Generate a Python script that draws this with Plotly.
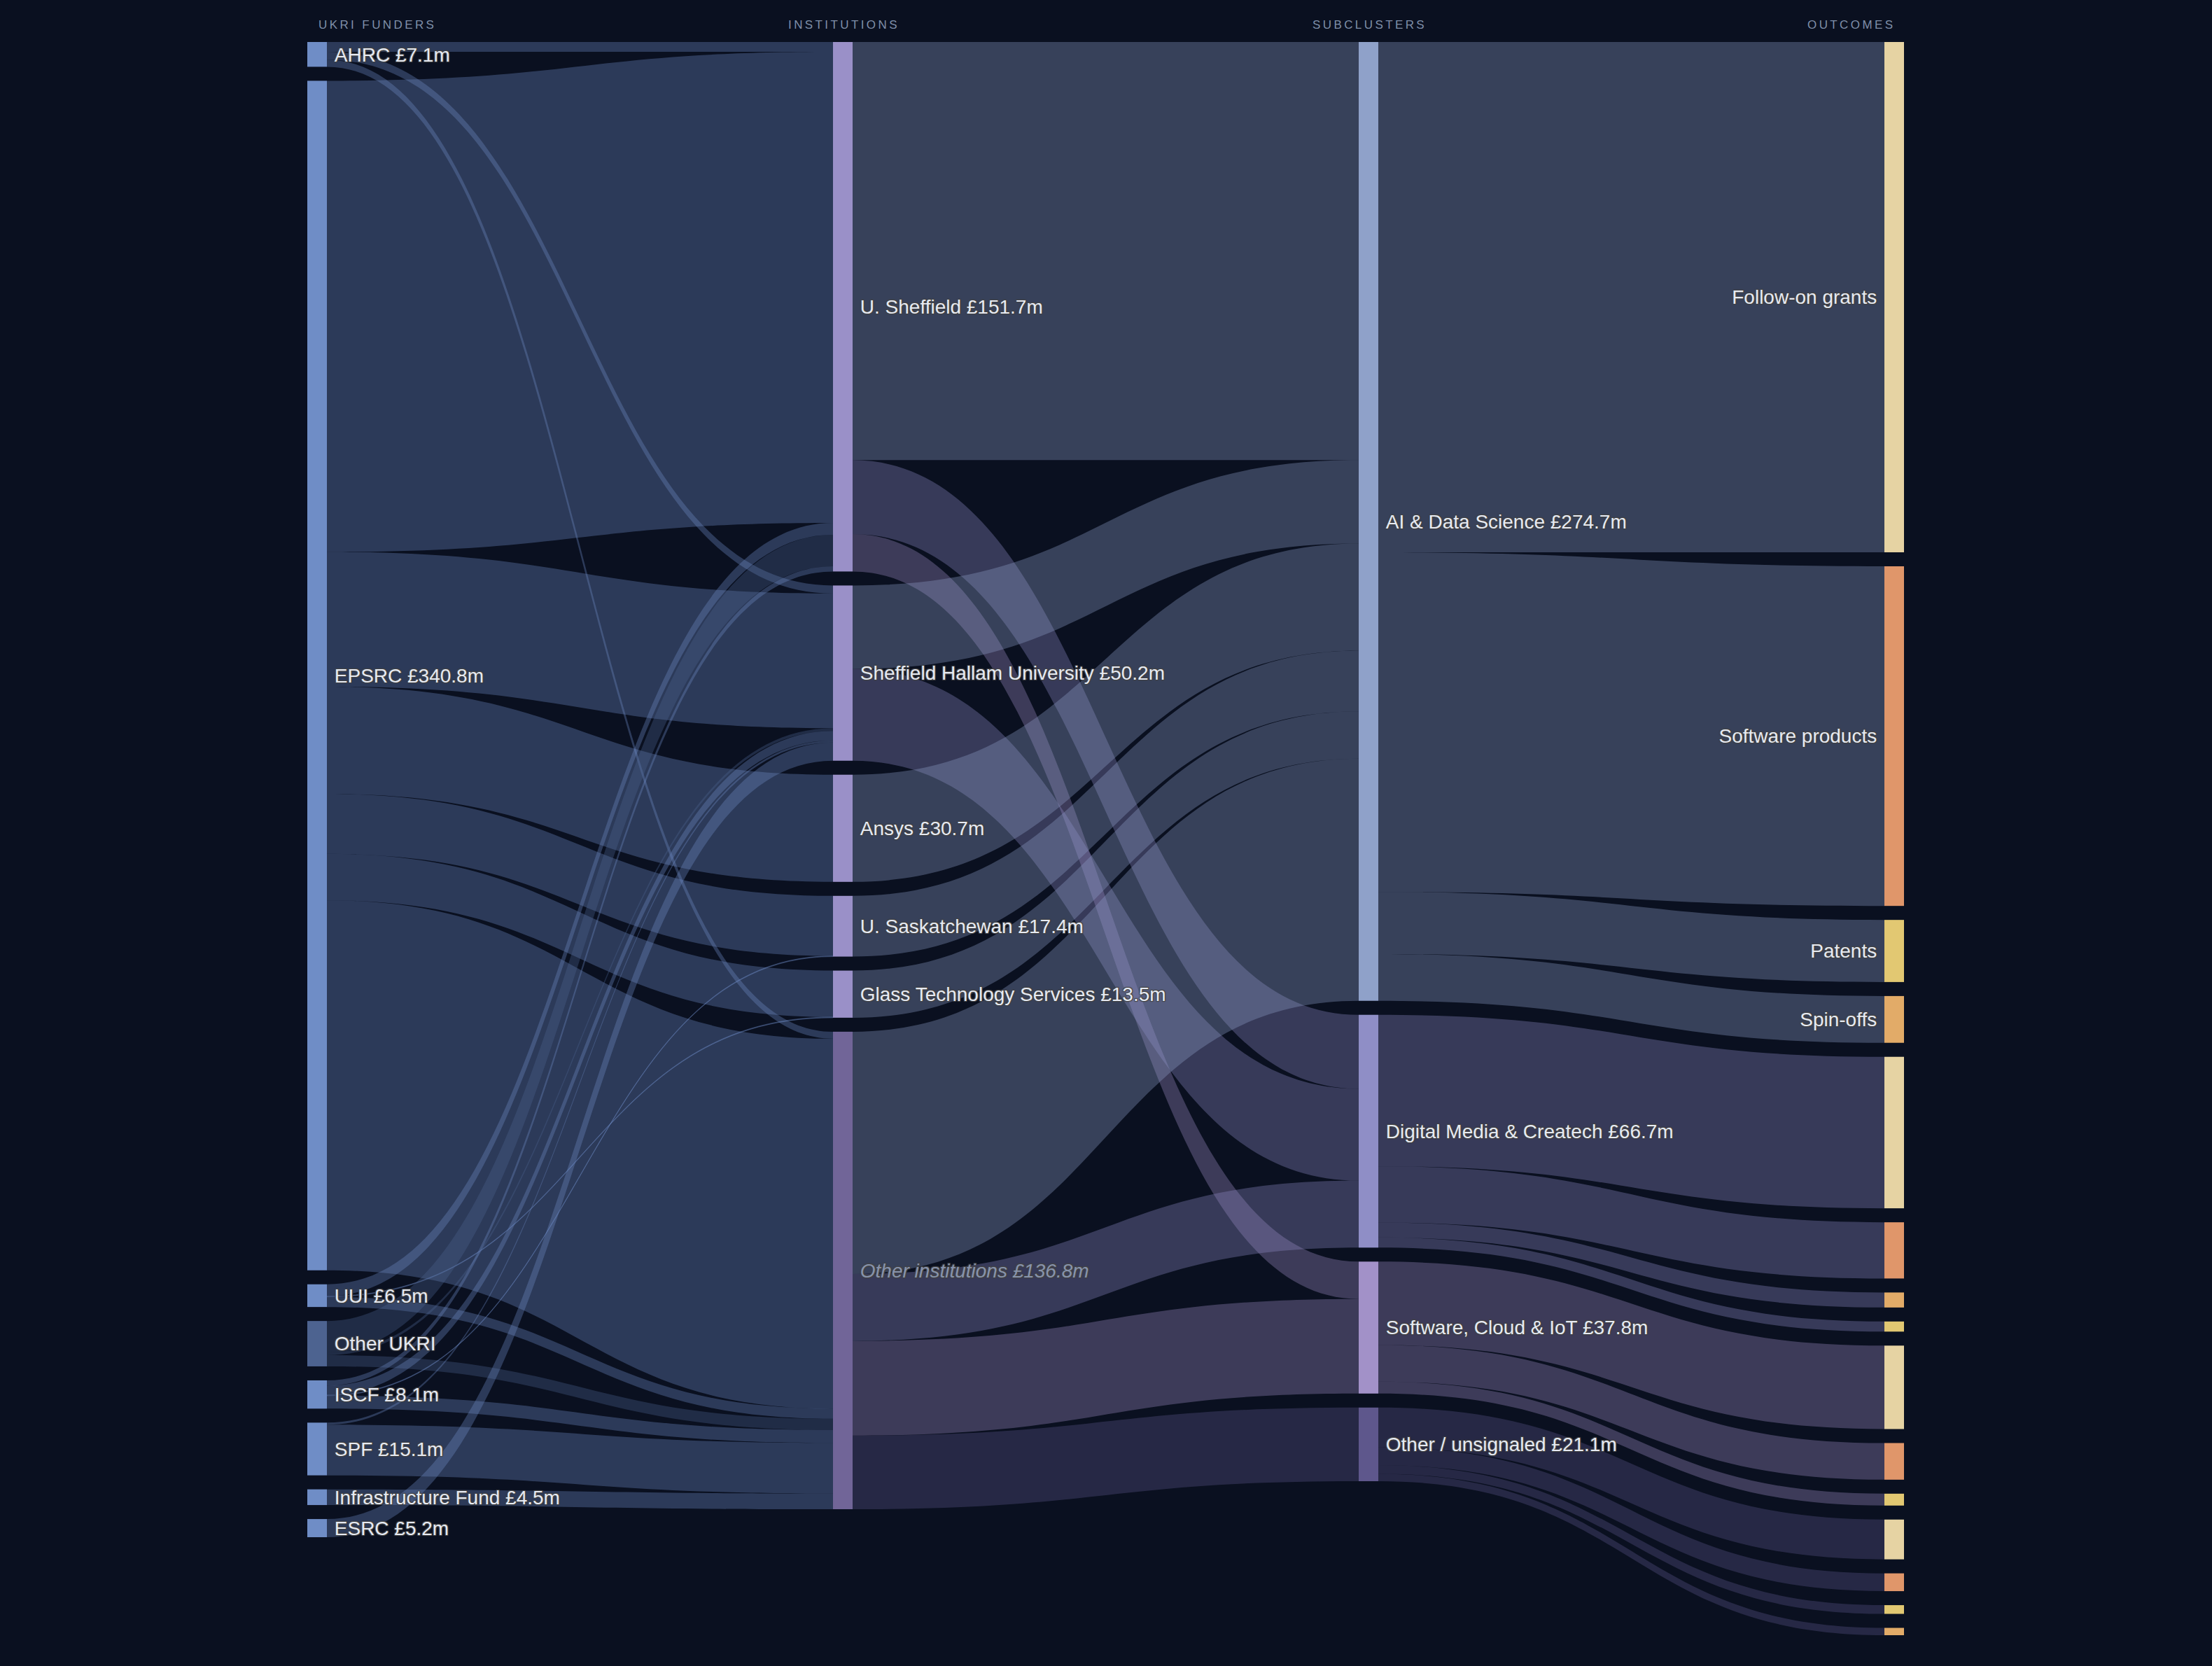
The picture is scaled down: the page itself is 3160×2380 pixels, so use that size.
import plotly.graph_objects as go

FIG_W, FIG_H = 3160, 2380
BG = "#0a1020"

# ---------------- data ----------------
funders = ["AHRC", "EPSRC", "UUI", "Other UKRI", "ISCF", "SPF", "Infrastructure Fund", "ESRC"]
funder_totals = [7.1, 340.8, 6.5, 13.0, 8.1, 15.1, 4.5, 5.2]
funder_show_total = [True, True, True, False, True, True, True, True]

institutions = ["U. Sheffield", "Sheffield Hallam University", "Ansys", "U. Saskatchewan",
                "Glass Technology Services", "Other institutions"]
inst_totals = [151.7, 50.2, 30.7, 17.4, 13.5, 136.8]

subclusters = ["AI & Data Science", "Digital Media & Createch", "Software, Cloud & IoT", "Other / unsignaled"]
sub_totals = [274.7, 66.7, 37.8, 21.1]

# funder -> institution flows (rows: funders, cols: institutions), £m
fund_to_inst = [
    [2.8, 2.3, 0.0, 0.0, 0.0, 2.0],        # AHRC
    [135.0, 38.6, 30.7, 17.2, 13.3, 106.0],  # EPSRC
    [3.4, 0.0, 0.0, 0.0, 0.2, 2.9],        # UUI
    [9.0, 0.8, 0.0, 0.0, 0.0, 3.2],        # Other UKRI
    [1.5, 2.7, 0.0, 0.2, 0.0, 3.7],        # ISCF
    [0.0, 0.6, 0.0, 0.0, 0.0, 14.5],       # SPF
    [0.0, 0.0, 0.0, 0.0, 0.0, 4.5],        # Infrastructure Fund
    [0.0, 5.2, 0.0, 0.0, 0.0, 0.0],        # ESRC
]

# institution -> subcluster flows (rows: institutions, cols: subclusters), £m
inst_to_sub = [
    [119.8, 21.2, 10.7, 0.0],
    [23.9, 26.3, 0.0, 0.0],
    [30.7, 0.0, 0.0, 0.0],
    [17.4, 0.0, 0.0, 0.0],
    [13.5, 0.0, 0.0, 0.0],
    [69.4, 19.2, 27.1, 21.1],
]

# subcluster -> outcome flows
outcome_names = [
    ["Follow-on grants", "Software products", "Patents", "Spin-offs"],
    ["Follow-on grants", "Software products", "Spin-offs", "Patents"],
    ["Follow-on grants", "Software products", "Patents"],
    ["Follow-on grants", "Software products", "Patents", "Spin-offs"],
]
outcome_values = [
    [146.2, 97.3, 17.8, 13.4],
    [43.4, 16.1, 4.3, 2.9],
    [23.9, 10.5, 3.4],
    [11.4, 5.1, 2.5, 2.1],
]
outcome_labelled = [True, False, False, False]

headers = ["UKRI FUNDERS", "INSTITUTIONS", "SUBCLUSTERS", "OUTCOMES"]

# ---------------- styling ----------------
funder_colors = ["#6f8dc6", "#6f8dc6", "#6f8dc6", "#4d6390", "#6f8dc6", "#6f8dc6", "#6f8dc6", "#6f8dc6"]
inst_colors = ["#9a90c8", "#9a90c8", "#9a90c8", "#9a90c8", "#9a90c8", "#716598"]
sub_colors = ["#8fa1c9", "#8f8ec6", "#a291c8", "#5e578c"]
outcome_colors = {"Follow-on grants": "#e6d3a3", "Software products": "#e0966a",
                  "Patents": "#e2c872", "Spin-offs": "#e2ab68"}
LINK_ALPHA = 0.34
LABEL_COLOR = "#e6eaf3"
HEADER_COLOR = "#7f8fa9"
FONT = "Liberation Sans, Arial, sans-serif"

X_LEFT, X_RIGHT = 439, 2720      # px extent of the sankey
Y_TOP, Y_BOTTOM = 60, 2336
THICK = 28
PAD = 20
NBSP = "\u00a0"


def rgba(hex_color, a):
    h = hex_color.lstrip("#")
    r, g, b = int(h[0:2], 16), int(h[2:4], 16), int(h[4:6], 16)
    return f"rgba({r},{g},{b},{a})"


# ---------------- build nodes ----------------
labels, colors, columns = [], [], [[], [], [], []]

for i, name in enumerate(funders):
    txt = f"{name} £{funder_totals[i]:.1f}m" if funder_show_total[i] else name
    columns[0].append(len(labels))
    labels.append(NBSP + txt)
    colors.append(funder_colors[i])

inst_idx0 = len(labels)
for i, name in enumerate(institutions):
    txt = f"{name} £{inst_totals[i]:.1f}m"
    if name.startswith("Other"):
        txt = f"<i><span style='color:#8793ad'>{txt}</span></i>"
    columns[1].append(len(labels))
    labels.append(NBSP + txt)
    colors.append(inst_colors[i])

sub_idx0 = len(labels)
for i, name in enumerate(subclusters):
    columns[2].append(len(labels))
    labels.append(NBSP + f"{name} £{sub_totals[i]:.1f}m")
    colors.append(sub_colors[i])

out_idx = []
for s, names in enumerate(outcome_names):
    row = []
    for name in names:
        row.append(len(labels))
        columns[3].append(len(labels))
        labels.append((name + NBSP) if outcome_labelled[s] else "")
        colors.append(outcome_colors[name])
    out_idx.append(row)

# ---------------- build links ----------------
src, tgt, val, lcol = [], [], [], []
for i, row in enumerate(fund_to_inst):
    for j, v in enumerate(row):
        if v > 0:
            src.append(i); tgt.append(inst_idx0 + j); val.append(v)
            lcol.append(rgba(funder_colors[i], LINK_ALPHA))
for i, row in enumerate(inst_to_sub):
    for j, v in enumerate(row):
        if v > 0:
            src.append(inst_idx0 + i); tgt.append(sub_idx0 + j); val.append(v)
            lcol.append(rgba(sub_colors[j], LINK_ALPHA))
for s, vals in enumerate(outcome_values):
    for k, v in enumerate(vals):
        src.append(sub_idx0 + s); tgt.append(out_idx[s][k]); val.append(v)
        lcol.append(rgba(sub_colors[s], LINK_ALPHA))

# node value = max(inflow, outflow) like the sankey engine
n = len(labels)
vin, vout = [0.0] * n, [0.0] * n
for a, b, v in zip(src, tgt, val):
    vout[a] += v
    vin[b] += v
node_val = [max(a, b) for a, b in zip(vin, vout)]

# ---------------- node placement (stacked columns) ----------------
W = X_RIGHT - X_LEFT
H = Y_BOTTOM - Y_TOP
ky = min((H - (len(c) - 1) * PAD) / sum(node_val[i] for i in c) for c in columns)
node_x, node_y = [0.0] * n, [0.0] * n
col_centers_px = []
for k, col in enumerate(columns):
    cx = THICK / 2 + k * (W - THICK) / 3
    col_centers_px.append(X_LEFT + cx)
    y = 0.0
    for i in col:
        h = node_val[i] * ky
        node_x[i] = cx / W
        node_y[i] = (y + h / 2) / H
        y += h + PAD

fig = go.Figure(go.Sankey(
    arrangement="fixed",
    domain=dict(x=[X_LEFT / FIG_W, X_RIGHT / FIG_W],
                y=[1 - Y_BOTTOM / FIG_H, 1 - Y_TOP / FIG_H]),
    node=dict(label=labels, color=colors, pad=PAD, thickness=THICK,
              line=dict(width=0), x=node_x, y=node_y, hoverinfo="none"),
    link=dict(source=src, target=tgt, value=val, color=lcol, hoverinfo="none"),
    textfont=dict(family=FONT, size=28, color=LABEL_COLOR),
))

anchors = ["left", "center", "center", "right"]
for k, htxt in enumerate(headers):
    fig.add_annotation(
        x=col_centers_px[k] / FIG_W, y=1 - 36 / FIG_H, xref="paper", yref="paper",
        text="\u2009".join(list(htxt)), showarrow=False,
        xanchor=anchors[k], yanchor="middle",
        font=dict(family=FONT, size=17, color=HEADER_COLOR),
    )

fig.update_layout(
    width=FIG_W, height=FIG_H,
    margin=dict(l=0, r=0, t=0, b=0),
    paper_bgcolor=BG, plot_bgcolor=BG,
    font=dict(family=FONT, color=LABEL_COLOR),
)

fig.write_html("out.html", config={"displayModeBar": False},
               post_script="document.body.style.margin='0';document.body.style.overflow='hidden';")
